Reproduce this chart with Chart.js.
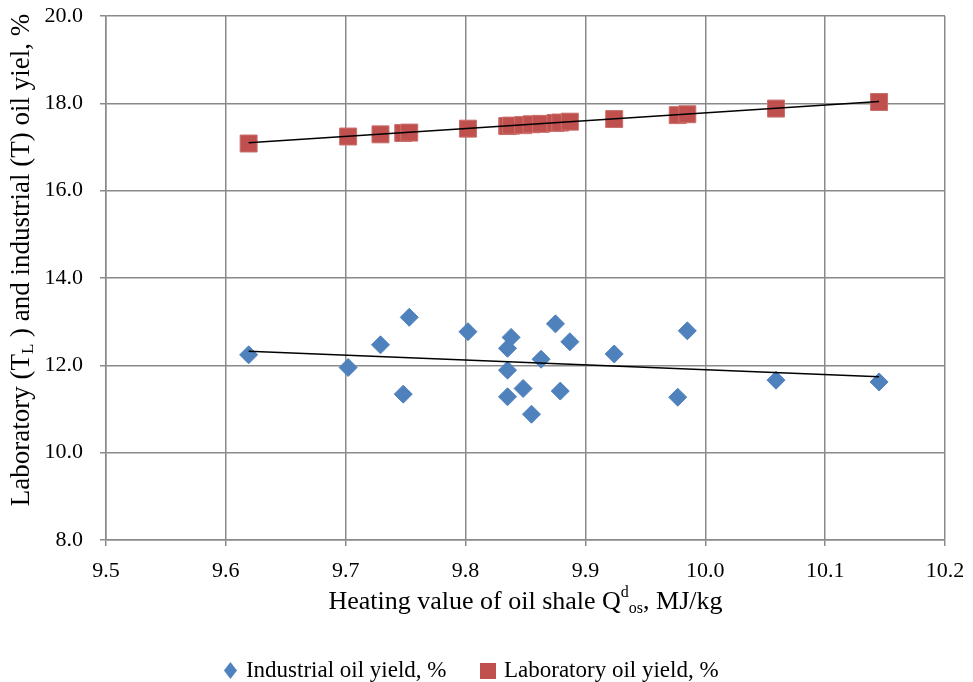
<!DOCTYPE html>
<html>
<head>
<meta charset="utf-8">
<script src="https://cdn.jsdelivr.net/npm/chart.js@4"></script>
<style>
  html, body { margin: 0; padding: 0; background: #fff; }
  #wrap { width: 973px; height: 682px; }
</style>
</head>
<body>
<div id="wrap"><canvas id="oilChart"></canvas></div>
<script>
// heating value of oil shale, MJ/kg (same samples for both series)
const heatingValue = [9.619, 9.702, 9.729, 9.748, 9.753, 9.802, 9.835, 9.835, 9.835, 9.838,
    9.848, 9.855, 9.863, 9.875, 9.879, 9.887, 9.924, 9.977, 9.985, 10.059, 10.145];
const industrialYield = [12.24, 11.95, 12.47, 11.34, 13.10, 12.77, 12.39, 11.89, 11.28, 12.64,
    11.47, 10.88, 12.14, 12.95, 11.41, 12.54, 12.26, 11.27, 12.79, 11.66, 11.62];
const laboratoryYield = [17.08, 17.24, 17.29, 17.32, 17.33, 17.42, 17.48, 17.48, 17.48, 17.49,
    17.50, 17.52, 17.53, 17.55, 17.56, 17.58, 17.64, 17.73, 17.75, 17.88, 18.03];
// trendline end points
const trendX = [9.619, 10.145];
const industrialTrend = [12.32, 11.74];
const laboratoryTrend = [17.10, 18.04];

const FONT = 'Liberation Serif';
const gridColor = '#8a8a8a';
const padBottom = -10;

const toPoints = (xs, ys) => xs.map((x, i) => ({ x: x, y: ys[i] }));

// small canvas icons for the legend
const makeIcon = (w, h, color, diamond) => {
    const c = document.createElement('canvas');
    c.width = w;
    c.height = h;
    const g = c.getContext('2d');
    g.fillStyle = color;
    if (diamond) {
        g.beginPath();
        g.moveTo(w / 2, 0);
        g.lineTo(w, h / 2);
        g.lineTo(w / 2, h);
        g.lineTo(0, h / 2);
        g.closePath();
        g.fill();
    } else {
        g.fillRect(0, 0, w, h);
    }
    return c;
};
const diamondIcon = makeIcon(13, 17, '#4F81BD', true);
const squareIcon = makeIcon(16, 16, '#C0504D', false);

// draw a line of text made of normal / sup / sub pieces, centred at (cx, cy)
const drawRich = (ctx, parts, cx, cy, size) => {
    const big = size + 'px "' + FONT + '"';
    const small = Math.round(size * 0.62) + 'px "' + FONT + '"';
    let total = 0;
    parts.forEach((p) => {
        ctx.font = p.sub || p.sup ? small : big;
        p.w = ctx.measureText(p.t).width;
        total += p.w;
    });
    let x = cx - total / 2;
    ctx.textBaseline = 'middle';
    ctx.textAlign = 'left';
    parts.forEach((p) => {
        ctx.font = p.sub || p.sup ? small : big;
        let dy = 0;
        if (p.sup) dy = -9;
        if (p.sub) dy = 7;
        ctx.fillText(p.t, x, cy + dy);
        x += p.w;
    });
};

const axisTitles = {
    id: 'axisTitles',
    afterDraw(chart) {
        const ctx = chart.ctx;
        const area = chart.chartArea;
        ctx.save();
        ctx.fillStyle = '#000';
        drawRich(ctx, [
            { t: 'Heating value of oil shale Q' },
            { t: 'd', sup: true },
            { t: 'os', sub: true },
            { t: ', MJ/kg' },
        ], (area.left + area.right) / 2, 602, 26);
        ctx.translate(22, 260);
        ctx.rotate(-Math.PI / 2);
        drawRich(ctx, [
            { t: 'Laboratory (T' },
            { t: 'L', sub: true },
            { t: ' ) and industrial (T) oil yiel, %' },
        ], 0, 0, 27);
        ctx.restore();
    },
};

const ctx = document.getElementById('oilChart');
const myChart = new Chart(ctx, {
    type: 'scatter',
    data: {
        datasets: [
            {
                label: 'trend industrial',
                type: 'line',
                data: toPoints(trendX, industrialTrend),
                borderColor: '#000',
                borderWidth: 1.5,
                pointRadius: 0,
                fill: false,
            },
            {
                label: 'trend laboratory',
                type: 'line',
                data: toPoints(trendX, laboratoryTrend),
                borderColor: '#000',
                borderWidth: 1.5,
                pointRadius: 0,
                fill: false,
            },
            {
                label: 'Industrial oil yield, %',
                data: toPoints(heatingValue, industrialYield),
                pointStyle: 'rectRot',
                pointRadius: 9,
                pointHoverRadius: 9,
                backgroundColor: '#4F81BD',
                borderColor: '#4F81BD',
                borderWidth: 1,
            },
            {
                label: 'Laboratory oil yield, %',
                data: toPoints(heatingValue, laboratoryYield),
                pointStyle: 'rect',
                pointRadius: 12,
                pointHoverRadius: 12,
                backgroundColor: '#C0504D',
                borderColor: '#C9706D',
                borderWidth: 1,
            },
        ],
    },
    options: {
        responsive: true,
        maintainAspectRatio: false,
        animation: false,
        layout: {
            padding: { left: 0, right: 28, top: 16, bottom: padBottom },
        },
        scales: {
            x: {
                type: 'linear',
                min: 9.5,
                max: 10.2,
                ticks: {
                    stepSize: 0.1,
                    color: '#000',
                    padding: 12,
                    font: { family: FONT, size: 22 },
                    callback: (v) => v.toFixed(1),
                },
                grid: { color: gridColor, lineWidth: 1.5, tickLength: 6, tickColor: gridColor },
                border: { color: gridColor, width: 1.5 },
                afterFit: (scale) => {
                    const legendH = scale.chart.legend ? scale.chart.legend.height : 0;
                    scale.height = scale.chart.height - 540 - legendH - padBottom;
                    scale.paddingLeft = 0;
                    scale.paddingRight = 0;
                },
            },
            y: {
                min: 8,
                max: 20,
                ticks: {
                    stepSize: 2,
                    color: '#000',
                    padding: 17,
                    font: { family: FONT, size: 22 },
                    callback: (v) => v.toFixed(1),
                },
                grid: { color: gridColor, lineWidth: 1.5, tickLength: 6, tickColor: gridColor },
                border: { color: gridColor, width: 1.5 },
                afterFit: (scale) => {
                    scale.width = 106;
                    scale.paddingTop = 0;
                    scale.paddingBottom = 0;
                },
            },
        },
        plugins: {
            tooltip: { enabled: false },
            legend: {
                position: 'bottom',
                labels: {
                    usePointStyle: true,
                    boxWidth: 8,
                    color: '#000',
                    padding: 38,
                    font: { family: FONT, size: 23 },
                    generateLabels: (chart) => {
                        const items = Chart.defaults.plugins.legend.labels.generateLabels(chart);
                        return items
                            .filter((it) => it.datasetIndex >= 2)
                            .map((it) => {
                                it.pointStyle = it.datasetIndex === 2 ? diamondIcon : squareIcon;
                                return it;
                            });
                    },
                },
            },
        },
    },
    plugins: [axisTitles],
});
</script>
</body>
</html>
